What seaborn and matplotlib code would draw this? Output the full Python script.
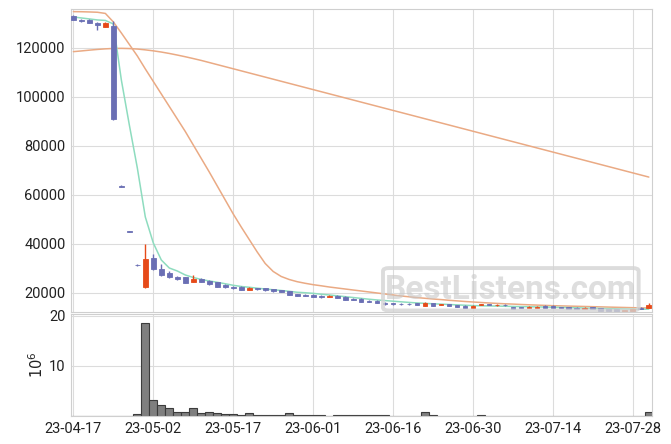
import numpy as np
import pandas as pd
import matplotlib
matplotlib.use('Agg')
import matplotlib.pyplot as plt
import seaborn as sns
from matplotlib.patches import FancyBboxPatch

# %% data (one value per bar)
tick_labels = ['23-04-17', '23-05-02', '23-05-17', '23-06-01',
               '23-06-16', '23-06-30', '23-07-14', '23-07-28']

opens = [133100, 131300, 131500, 130300, 128700, 129000, 63800, 45100, 31600, 22600,
         34300, 29900, 28300, 26650, 26500, 24500, 25850, 25000, 24400, 23300,
         22600, 22600, 21250, 21900, 21900, 21650, 21200, 20800, 19600, 19300,
         19300, 18900, 18500, 18900, 18500, 17700, 17700, 16850, 16850, 16050,
         15800, 15700, 15650, 15900, 14800, 15800, 15000, 15400, 15000, 14800,
         14000, 15000, 15400, 14900, 15300, 14300, 14300, 14000, 14000, 14800,
         14800, 14300, 14300, 14000, 13500, 14100, 13900, 13500, 13350, 11950,
         12650, 14000, 13900]
closes = [131400, 131000, 130300, 129500, 130300, 91000, 63400, 44800, 31300, 33750,
          29900, 27350, 26400, 25700, 24200, 25700, 24600, 23650, 22600, 22300,
          21900, 21350, 22050, 21500, 21200, 20800, 20400, 19300, 18900, 18900,
          18500, 18500, 18900, 18100, 17300, 17300, 16450, 16450, 16050, 15500,
          15500, 15400, 15450, 15300, 15900, 14800, 15400, 14800, 14300, 14000,
          14800, 15500, 15000, 15300, 14900, 13500, 13800, 14400, 14400, 13900,
          13900, 13900, 13500, 13500, 14000, 13500, 12800, 12800, 12250, 13050,
          13450, 13500, 15100]
highs = [133300, 132000, 131700, 130500, 130500, 131000, 63900, 45200, 31700, 39900,
         35800, 31700, 29000, 27100, 26700, 27350, 26200, 25200, 24600, 23500,
         22800, 22700, 22300, 22100, 22000, 21800, 21400, 21000, 19700, 19400,
         19400, 19100, 19100, 19000, 18600, 17800, 17800, 17000, 17000, 16200,
         15900, 15800, 15800, 16000, 16300, 15900, 15500, 15500, 15100, 14900,
         14900, 15600, 15500, 15400, 15400, 14400, 14400, 14500, 14500, 14900,
         14900, 14400, 14400, 14100, 14100, 14200, 14000, 13600, 13400, 13100,
         13500, 14100, 15800]
lows = [131300, 130400, 130100, 127400, 128600, 90800, 63400, 44700, 31200, 22200,
        29400, 26900, 26000, 25300, 23950, 24300, 24400, 23300, 22400, 22100,
        21700, 21100, 21100, 21300, 21000, 20600, 20200, 19100, 18700, 18700,
        18300, 18000, 18400, 17900, 17100, 17100, 16300, 16300, 15900, 15300,
        15300, 15200, 15300, 15100, 14700, 14700, 14900, 14700, 14100, 13800,
        13900, 14900, 14900, 14800, 14800, 13300, 13700, 13900, 13900, 13800,
        13800, 13700, 13300, 13300, 13400, 13300, 12600, 12600, 12000, 11900,
        12600, 13400, 13800]

# volume in millions
volumes = [0, 0, 0, 0, 0, 0, 0, 0, 0.3, 18.5,
           3.2, 2.2, 1.5, 0.8, 0.8, 1.6, 0.6, 0.8, 0.6, 0.3,
           0.3, 0.2, 0.6, 0.2, 0.2, 0.2, 0.2, 0.6, 0.2, 0.2,
           0.2, 0.2, 0, 0.2, 0.2, 0.2, 0.2, 0.2, 0.2, 0.2,
           0, 0, 0, 0, 0.7, 0.2, 0, 0, 0, 0,
           0, 0.2, 0, 0, 0, 0, 0, 0, 0, 0,
           0, 0, 0, 0, 0, 0, 0, 0, 0, 0,
           0, 0, 0.7]

ma_short = [132650, 132250, 131850, 131440, 131240, 129800, 106950, 88580, 71030, 51020,
            40410, 33470, 30200, 28980, 27350, 26330, 25510, 24900, 24370, 23760,
            23140, 22650, 22330, 21960, 21630, 21310, 21020, 20690, 20290, 20100,
            19850, 19500, 19200, 18850, 18500, 18150, 17800, 17450, 17150, 16900,
            16650, 16400, 16150, 15950, 15750, 15600, 15450, 15300, 15150, 15000,
            14850, 14780, 14720, 14650, 14580, 14500, 14430, 14380, 14320, 14250,
            14180, 14100, 14020, 13950, 13850, 13750, 13680, 13600, 13520, 13450,
            13380, 13350, 13400]
ma_mid = [134830, 134790, 134700, 134580, 134100, 130620, 126130, 121440, 116740, 111440,
          106330, 101230, 96130, 91030, 85920, 80410, 74900, 69390, 63680, 57960,
          52250, 46940, 41840, 36740, 32040, 28780, 26740, 25510, 24610, 23960,
          23390, 22940, 22450, 22040, 21630, 21220, 20820, 20410, 20000, 19590,
          19180, 18780, 18450, 18120, 17840, 17550, 17310, 17020, 16780, 16530,
          16330, 16120, 15920, 15750, 15590, 15470, 15310, 15180, 15060, 14940,
          14820, 14730, 14650, 14570, 14490, 14410, 14330, 14240, 14160, 14080,
          14000, 13920, 13880]
ma_long = [118500, 118790, 119110, 119400, 119640, 119800, 119840, 119760, 119560, 119230,
           118830, 118340, 117760, 117110, 116420, 115680, 114910, 114060, 113210, 112360,
           111510, 110660, 109810, 108960, 108110, 107260, 106410, 105560, 104710, 103860,
           103010, 102160, 101310, 100460, 99610, 98760, 97910, 97060, 96210, 95360,
           94510, 93660, 92810, 91960, 91110, 90260, 89410, 88560, 87710, 86860,
           86010, 85160, 84310, 83460, 82610, 81760, 80910, 80060, 79210, 78360,
           77510, 76660, 75810, 74960, 74110, 73260, 72410, 71560, 70710, 69860,
           69010, 68160, 67310]

# %%
df = pd.DataFrame({'open': opens, 'high': highs, 'low': lows, 'close': closes,
                   'volume': volumes, 'ma_short': ma_short, 'ma_mid': ma_mid,
                   'ma_long': ma_long})
df['idx'] = np.arange(len(df))

sns.set_style('whitegrid')
plt.rcParams['font.family'] = ['Roboto', 'DejaVu Sans']

UP = '#e64a19'
DOWN = '#6a6fb4'
GRID = '#dcdcdc'

fig = plt.figure(figsize=(6.71, 4.44), dpi=100)
ax = fig.add_axes([0.1058, 0.2973, 0.8659, 0.6824])
axv = fig.add_axes([0.1058, 0.0631, 0.8659, 0.2297], sharex=ax)

# moving averages
sns.lineplot(data=df, x='idx', y='ma_long', ax=ax, color='#eaaa84', lw=1.1, zorder=2)
sns.lineplot(data=df, x='idx', y='ma_mid', ax=ax, color='#eaaa84', lw=1.1, zorder=2)
sns.lineplot(data=df, x='idx', y='ma_short', ax=ax, color='#8edcbf', lw=1.1, zorder=2)

# candles
up = df['close'] >= df['open']
colors = np.where(up, UP, DOWN)
ax.vlines(df['idx'], df['low'], df['high'], colors=colors, lw=1.0, zorder=3)
body_bottom = df[['open', 'close']].min(axis=1)
body_height = (df['close'] - df['open']).abs()
ax.bar(df['idx'], body_height, bottom=body_bottom, width=0.6, color=colors,
       edgecolor=colors, linewidth=0.6, zorder=4)

# volume
sns.barplot(data=df, x='idx', y='volume', ax=axv, native_scale=True, width=1.0,
            color='#7f7f7f', edgecolor='#3c3c3c', linewidth=0.8, saturation=1)

# watermark
box = FancyBboxPatch((0.537, 0.005), 0.44, 0.14, boxstyle='round,pad=0,rounding_size=0.01',
                     transform=ax.transAxes, fill=False, edgecolor='#d4d4d4', lw=2.8,
                     alpha=0.8, zorder=6)
ax.add_patch(box)
ax.text(0.757, 0.072, 'BestListens.com', transform=ax.transAxes, ha='center', va='center',
        fontsize=24, fontweight='bold', color='#c8c8c8', alpha=0.6, zorder=6)

for a in (ax, axv):
    a.grid(True, color=GRID, lw=0.8)
    a.set_axisbelow(True)
    for s in a.spines.values():
        s.set_color('#cfcfcf')
        s.set_linewidth(0.8)
    a.tick_params(axis='both', length=0, labelsize=10.5, colors='#222222', pad=4)
    a.set_xlabel('')
    a.set_ylabel('')

ax.set_xlim(-0.3, 72.4)
ax.set_ylim(12240, 135900)
ax.set_yticks([20000, 40000, 60000, 80000, 100000, 120000])
ax.set_xticks(range(0, 80, 10))
ax.tick_params(axis='x', labelbottom=False)

axv.set_ylim(0, 20.4)
axv.set_yticks([10, 20])
axv.set_xticks(range(0, 80, 10))
axv.set_xticklabels(tick_labels)
axv.set_ylabel('$10^6$', fontsize=10.5, color='#222222', labelpad=2)

fig.savefig('out.png', dpi=100)
